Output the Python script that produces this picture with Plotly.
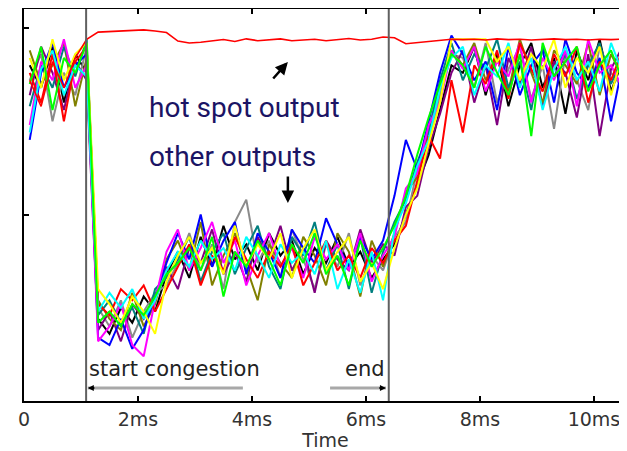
import plotly.graph_objects as go

# time axis (ms)
time_ms = [round(0.1 + 0.2 * i, 2) for i in range(53)]

# other outputs (percent of full throughput)
black = [90, 84, 95, 80, 93, 88, 22, 18, 25, 21, 28, 24, 34,
         40, 33, 44, 36, 47, 38, 42, 35, 45, 39, 43, 34, 41, 37, 44, 36, 40, 33, 38,
         42, 50, 58, 66, 78, 90,
         88, 95, 82, 93, 79, 90, 96, 84, 92, 77, 94, 86, 97, 83, 91]
gray = [86, 93, 75, 88, 82, 95, 25, 20, 27, 17, 24, 29, 31,
        37, 45, 35, 42, 30, 48, 54, 37, 43, 33, 46, 38, 30, 42, 36, 45, 31, 39, 35,
        44, 48, 62, 70, 82, 93,
        92, 84, 96, 80, 89, 95, 81, 90, 73, 93, 86, 78, 95, 88, 84]
purple = [82, 95, 88, 78, 91, 86, 19, 24, 16, 26, 22, 27, 36,
          30, 41, 37, 46, 34, 40, 32, 44, 38, 47, 35, 41, 29, 43, 38, 35, 46, 37, 42,
          39, 52, 55, 68, 77, 88,
          94, 80, 90, 74, 92, 85, 95, 79, 91, 88, 76, 93, 71, 89, 95]
olive = [94, 85, 90, 96, 79, 92, 27, 22, 19, 29, 20, 26, 38,
         43, 35, 48, 31, 39, 45, 36, 27, 42, 37, 33, 44, 39, 31, 45, 40, 28, 43, 36,
         45, 56, 60, 73, 84, 94,
         90, 96, 86, 92, 83, 97, 88, 80, 94, 90, 85, 96, 82, 93, 87]
teal = [79, 90, 84, 95, 87, 97, 23, 27, 21, 25, 18, 30, 33,
        38, 44, 32, 40, 45, 34, 41, 47, 36, 30, 44, 39, 48, 35, 42, 30, 44, 29, 40,
        48, 54, 64, 72, 86, 96,
        86, 93, 89, 97, 84, 91, 78, 95, 87, 93, 81, 90, 96, 85, 92]
blue = [70, 88, 96, 84, 90, 93, 17, 15, 22, 14, 19, 28, 37,
        45, 38, 50, 36, 43, 48, 34, 45, 40, 33, 46, 41, 37, 49, 42, 36, 44, 38, 43,
        55, 70, 62, 75, 88, 98,
        93, 86, 91, 78, 95, 82, 90, 94, 80, 97, 88, 84, 92, 75, 90]
magenta = [74, 91, 86, 97, 84, 90, 16, 20, 26, 15, 12, 27, 40,
           46, 35, 41, 48, 37, 43, 31, 39, 45, 36, 41, 33, 44, 38, 42, 35, 45, 32, 39,
           44, 57, 61, 74, 80, 94,
           89, 95, 83, 91, 87, 96, 80, 92, 86, 94, 79, 97, 88, 90, 84]
red = [88, 80, 93, 75, 91, 95, 26, 23, 30, 27, 31, 24, 30,
       36, 42, 31, 39, 35, 44, 38, 33, 40, 36, 42, 31, 37, 43, 35, 39, 33, 41, 37,
       43, 47, 59, 71, 65, 86,
       72, 90, 85, 94, 81, 96, 89, 83, 93, 87, 95, 80, 91, 86, 94]
cyan = [72, 89, 94, 82, 90, 87, 24, 29, 25, 30, 22, 27, 35,
        40, 36, 43, 38, 41, 35, 44, 39, 33, 42, 37, 40, 34, 43, 30, 38, 29, 40, 27,
        46, 53, 63, 70, 84, 92,
        95, 82, 90, 87, 96, 84, 92, 78, 89, 95, 86, 91, 83, 96, 88]
yellow = [92, 84, 97, 86, 93, 96, 30, 26, 21, 28, 24, 18, 32,
          39, 44, 37, 41, 34, 47, 36, 42, 38, 45, 33, 41, 46, 35, 40, 44, 32, 37, 30,
          41, 50, 57, 69, 80, 97,
          97, 97, 97, 91, 95, 86, 93, 89, 97, 84, 92, 88, 95, 82, 93]
lime = [85, 95, 78, 92, 88, 96, 21, 24, 20, 26, 23, 28, 34,
        37, 41, 35, 44, 28, 40, 36, 43, 38, 31, 42, 37, 45, 34, 39, 31, 43, 36, 41,
        47, 55, 66, 76, 85, 93,
        90, 84, 95, 88, 82, 93, 71, 96, 87, 91, 95, 83, 90, 94, 86]

# hot spot output
hot_spot = [86, 79, 91, 84, 92, 97, 98.9, 99.0, 99.1, 99.3, 99.5, 99.2, 98.8,
            96.5, 96.0, 96.2, 96.5, 96.9, 96.4, 97.1, 96.6, 96.9, 97.1, 96.6, 96.8,
            97.0, 96.6, 96.9, 97.2, 96.8, 97.0, 97.6,
            97.4, 95.8, 96.1, 96.6, 96.9, 97.0,
            96.9, 97.0, 96.8, 97.1, 96.9, 97.0, 96.8, 97.0, 97.1, 96.9, 97.0, 96.8,
            97.0, 96.9, 97.0]

other_series = [
    ("black", black, "#000000"), ("gray", gray, "#8a8a8a"),
    ("purple", purple, "#7f007f"), ("olive", olive, "#808000"),
    ("teal", teal, "#007f7f"), ("blue", blue, "#0000ff"),
    ("magenta", magenta, "#ff00ff"), ("red", red, "#ff0000"),
    ("cyan", cyan, "#00ffff"), ("yellow", yellow, "#ffff00"),
    ("lime", lime, "#00ff00"),
]

tick_vals = [0, 2, 4, 6, 8, 10]
tick_text = ["0", "2ms", "4ms", "6ms", "8ms", "10ms"]
congestion_start = 1.09
congestion_end = 6.4

fig = go.Figure()
for name, vals, col in other_series:
    fig.add_trace(go.Scatter(x=time_ms, y=vals, mode="lines", name=name,
                             line=dict(color=col, width=2)))
fig.add_trace(go.Scatter(x=time_ms, y=hot_spot, mode="lines", name="hot spot",
                         line=dict(color="#ff0000", width=1.6)))

# congestion markers
for xv in (congestion_start, congestion_end):
    fig.add_shape(type="line", xref="x", yref="paper", x0=xv, x1=xv, y0=0, y1=1,
                  line=dict(color="#606060", width=2))
fig.add_shape(type="line", xref="x", yref="y", x0=1.12, x1=3.84, y0=3.5, y1=3.5,
              line=dict(color="#a8a8a8", width=3))
fig.add_shape(type="line", xref="x", yref="y", x0=5.37, x1=6.35, y0=3.5, y1=3.5,
              line=dict(color="#a8a8a8", width=3))

label_font = dict(size=21, color="#222222", family="DejaVu Sans")
big_font = dict(size=28, color="#1b1464", family="Roboto, Liberation Sans")
anns = [
    dict(x=1.1, y=8.5, text="start congestion", xanchor="left", yanchor="middle",
         showarrow=False, font=label_font),
    dict(x=6.37, y=8.5, text="end", xanchor="right", yanchor="middle",
         showarrow=False, font=label_font),
    dict(x=1.12, y=3.5, ax=8, ay=0, text="", showarrow=True, arrowhead=2,
         arrowsize=0.6, arrowwidth=2, arrowcolor="#000000"),
    dict(x=6.35, y=3.5, ax=-8, ay=0, text="", showarrow=True, arrowhead=2,
         arrowsize=0.6, arrowwidth=2, arrowcolor="#000000"),
    dict(x=2.15, y=78.8, text="hot spot output", xanchor="left", yanchor="middle",
         showarrow=False, font=big_font),
    dict(x=2.15, y=65.6, text="other outputs", xanchor="left", yanchor="middle",
         showarrow=False, font=big_font),
    dict(x=4.63, y=90.9, ax=-16, ay=18, text="", showarrow=True, arrowhead=2,
         arrowsize=1, arrowwidth=2.5, arrowcolor="#000000"),
    dict(x=4.63, y=53.1, ax=0, ay=-28, text="", showarrow=True, arrowhead=2,
         arrowsize=1, arrowwidth=2.5, arrowcolor="#000000"),
]
fig.update_layout(annotations=anns)

# the page body adds an 8px offset, so the figure is sized to fill what is visible
fig.update_layout(
    width=619, height=443,
    margin=dict(l=16, r=0, t=1, b=50, autoexpand=False),
    plot_bgcolor="white", paper_bgcolor="white",
    showlegend=False,
    font=dict(family="DejaVu Sans", color="#333333"),
    xaxis=dict(range=[0, 10.58], tickvals=tick_vals, ticktext=tick_text,
               ticks="inside", ticklen=5, tickwidth=1.5, tickcolor="#000",
               showline=True, linecolor="#000", linewidth=2, mirror="ticks",
               showgrid=False, zeroline=False, automargin=False,
               tickfont=dict(size=19, color="#333333", family="DejaVu Sans"),
               title=dict(text="Time", standoff=0,
                          font=dict(size=19, color="#333333", family="DejaVu Sans"))),
    yaxis=dict(range=[0, 105.1], tickvals=[0, 50, 100], showticklabels=False,
               ticks="inside", ticklen=5, tickwidth=1.5, tickcolor="#000",
               showline=True, linecolor="#000", linewidth=2, mirror=False,
               showgrid=False, zeroline=False, automargin=False),
)

fig.write_html("out.html")
